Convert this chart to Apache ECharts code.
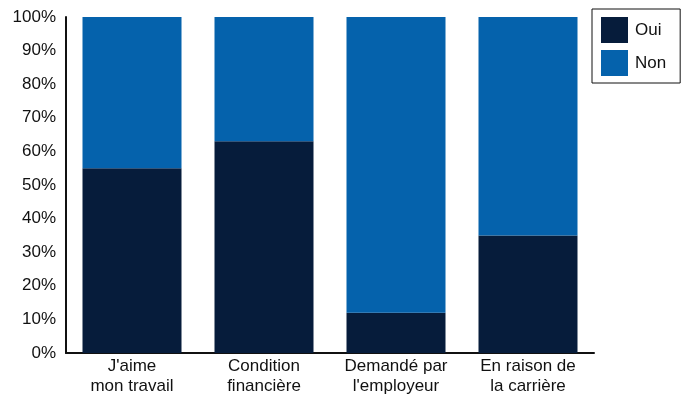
<!DOCTYPE html>
<html>
<head>
<meta charset="utf-8">
<script src="https://cdn.jsdelivr.net/npm/echarts@6/dist/echarts.min.js"></script>
<style>
  html, body { margin: 0; padding: 0; background: #fff; }
  #chart { width: 688px; height: 394px; }
</style>
</head>
<body>
<div id="chart"></div>
<script>
// reasons + share of yes / no answers (percent)
var categories = ["J'aime\nmon travail", "Condition\nfinancière", "Demandé par\nl'employeur", "En raison de\nla carrière"];
var oui = [55, 63, 12, 35];
var non = [45, 37, 88, 65];

var myChart = echarts.init(document.getElementById('chart'));

var option = {
  animation: false,
  textStyle: { fontFamily: 'Liberation Sans, Arial, sans-serif' },
  grid: { left: 66, right: 94, top: 17, bottom: 41, outerBoundsMode: 'none', containLabel: false },
  legend: {
    orient: 'vertical',
    left: 592,
    top: 9,
    itemWidth: 27,
    itemHeight: 26,
    itemGap: 7,
    padding: [8, 14, 7, 9],
    borderColor: '#111',
    borderWidth: 1,
    icon: 'rect',
    textStyle: { fontSize: 17, color: '#111', padding: [0, 0, 0, 2] },
    data: ['Oui', 'Non']
  },
  xAxis: {
    type: 'category',
    data: categories,
    axisLine: { lineStyle: { color: '#111', width: 2 } },
    axisTick: { show: false },
    axisLabel: { interval: 0, fontSize: 17, color: '#111', lineHeight: 20, margin: 3 }
  },
  yAxis: {
    type: 'value',
    min: 0,
    max: 100,
    interval: 10,
    axisLine: { show: true, lineStyle: { color: '#111', width: 2 } },
    axisTick: { show: false },
    splitLine: { show: false },
    axisLabel: { fontSize: 17, color: '#111', formatter: '{value}%', margin: 10, padding: [6, 0, 0, 0] }
  },
  series: [
    {
      name: 'Oui',
      type: 'bar',
      stack: 'total',
      barCategoryGap: '25%',
      itemStyle: { color: '#061c3b' },
      data: oui
    },
    {
      name: 'Non',
      type: 'bar',
      stack: 'total',
      barCategoryGap: '25%',
      itemStyle: { color: '#0562ac' },
      data: non
    }
  ]
};

myChart.setOption(option);
</script>
</body>
</html>
